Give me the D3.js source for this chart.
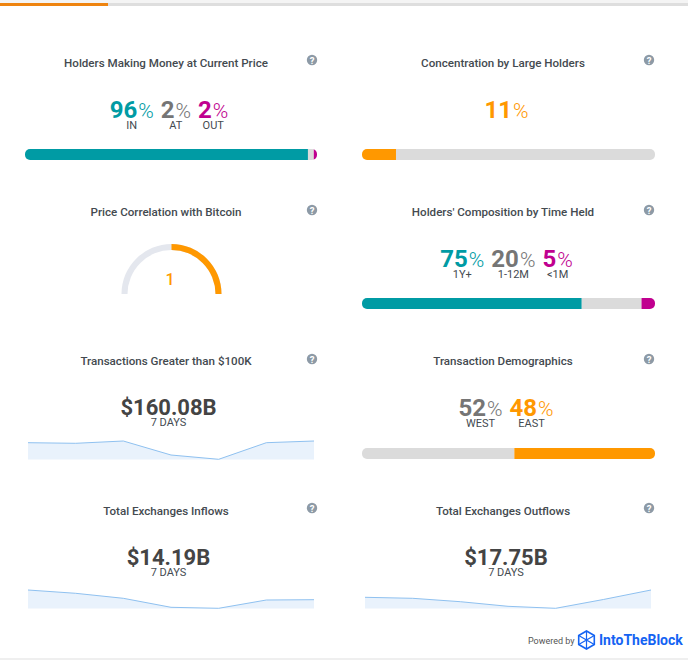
<!DOCTYPE html>
<html><head><meta charset="utf-8">
<script src="https://cdn.jsdelivr.net/npm/d3@7"></script>
<style>html,body{margin:0;padding:0;background:#fff;overflow:hidden}svg{display:block}text{font-family:Roboto,sans-serif}</style>
</head><body><svg id="c" width="688" height="660"></svg>
<script>
const titles=["Holders Making Money at Current Price","Concentration by Large Holders","Price Correlation with Bitcoin","Holders' Composition by Time Held","Transactions Greater than $100K","Transaction Demographics","Total Exchanges Inflows","Total Exchanges Outflows"];
const holdersLabels=["IN","AT","OUT"], holdersPct=[96,2,2], holdersBar=[96.9,2,1.1];
const concentrationPct=[11], concentrationBar=[11.6,88.4];
const correlationValue=1, correlationDomain=[-1,1];
const timeLabels=["1Y+","1-12M","<1M"], timePct=[75,20,5], timeBar=[75,20.4,4.6];
const demoLabels=["WEST","EAST"], demoPct=[52,48], demoBar=[52,48];
const days=[1,2,3,4,5,6,7];
const txValues=[16.8,16.2,18.5,4.5,0.2,16.8,18.5];
const inflowValues=[18.5,15.2,10.2,1.2,0.2,8.5,8.8];
const outflowValues=[11.2,10.2,6.8,2.2,0.2,9,18.5];
const bigLabels=["$160.08B","$14.19B","$17.75B"], periodLabel="7 DAYS";

const TEAL="#009ba4",GREY="#dbdbdb",MAG="#c0008f",ORANGE="#ff9800",DARK="#444a50",NUMGREY="#757575";
const svg=d3.select("#c");
svg.append("rect").attr("width",688).attr("height",3).attr("fill","#f4f4f4");
svg.append("rect").attr("y",3).attr("width",688).attr("height",3).attr("fill","#dedede");
svg.append("rect").attr("y",3).attr("width",108).attr("height",3).attr("fill","#ee8410");
svg.append("rect").attr("y",658).attr("width",688).attr("height",2).attr("fill","#efefef");

const titleCx=[166,503], iconCx=[312,649], rowTitle=[67,216,365,515], rowIcon=[60,210,359,508];
titles.forEach((t,i)=>{
  const col=i%2,row=Math.floor(i/2);
  svg.append("text").attr("x",titleCx[col]).attr("y",rowTitle[row]).attr("text-anchor","middle")
    .attr("font-size",11.6).attr("font-weight",500).attr("fill",DARK).text(t);
  const g=svg.append("g").attr("transform",`translate(${iconCx[col]},${rowIcon[row]})`);
  g.append("circle").attr("r",5.2).attr("fill","#8d9aa6");
  g.append("text").attr("y",3.5).attr("text-anchor","middle").attr("font-size",9.5).attr("font-weight",700).attr("fill","#fff").text("?");
});

function stats(cx,base,items){
  const g=svg.append("g");
  const parts=items.map(d=>{
    const n=g.append("text").attr("y",base).attr("font-size",24).attr("font-weight",700).attr("fill",d.color).text(d.pct);
    const p=g.append("text").attr("y",base).attr("font-size",21).attr("font-weight",300).attr("fill",d.color).text("%");
    const nw=n.node().getComputedTextLength(),pw=p.node().getComputedTextLength();
    return {n,p,nw,pw,d};
  });
  const gap=7,numGap=1;
  const total=d3.sum(parts,d=>d.nw+numGap+d.pw)+gap*(parts.length-1);
  let x=cx-total/2;
  parts.forEach(q=>{
    q.n.attr("x",x);q.p.attr("x",x+q.nw+numGap);
    if(q.d.label) g.append("text").attr("x",x+(q.nw+numGap+q.pw)/2).attr("y",base+11).attr("text-anchor","middle")
      .attr("font-size",11).attr("fill",DARK).text(q.d.label);
    x+=q.nw+numGap+q.pw+gap;
  });
}
function bar(x0,x1,y,vals,colors,id){
  const x=d3.scaleLinear().domain([0,d3.sum(vals)]).range([x0,x1]);
  const h=11;
  svg.append("clipPath").attr("id",id).append("rect").attr("x",x0).attr("y",y).attr("width",x1-x0).attr("height",h).attr("rx",5);
  const st=d3.cumsum(vals);
  svg.append("g").attr("clip-path",`url(#${id})`).selectAll("rect").data(vals).join("rect")
    .attr("x",(d,i)=>x(i?st[i-1]:0)).attr("y",y).attr("width",d=>x(d)-x(0)).attr("height",h).attr("fill",(d,i)=>colors[i]);
}
const c3=[TEAL,NUMGREY,MAG];
stats(169,118,holdersPct.map((p,i)=>({pct:p,label:holdersLabels[i],color:c3[i]})));
bar(25,317,149,holdersBar,[TEAL,GREY,MAG],"b1");
stats(506.5,118,concentrationPct.map(p=>({pct:p,color:ORANGE})));
bar(362,655,149,concentrationBar,[ORANGE,GREY],"b2");
stats(506.5,267,timePct.map((p,i)=>({pct:p,label:timeLabels[i],color:c3[i]})));
bar(362,655,298,timeBar,[TEAL,GREY,MAG],"b3");
const c2=[NUMGREY,ORANGE];
stats(506,416,demoPct.map((p,i)=>({pct:p,label:demoLabels[i],color:c2[i]})));
bar(362,655,448,demoBar,[GREY,ORANGE],"b4");

// gauge: scale spans -1..1 across the half circle, fill starts at zero
const ang=d3.scaleLinear().domain(correlationDomain).range([-Math.PI/2,Math.PI/2]);
const arc=d3.arc().innerRadius(44).outerRadius(50);
const gg=svg.append("g").attr("transform","translate(171.5,294)");
gg.append("path").attr("d",arc({startAngle:ang(correlationDomain[0]),endAngle:ang(correlationDomain[1])})).attr("fill","#e4e7ee");
gg.append("path").attr("d",arc({startAngle:ang(0),endAngle:ang(correlationValue)})).attr("fill",ORANGE);
svg.append("text").attr("x",170).attr("y",285).attr("text-anchor","middle").attr("font-size",16).attr("font-weight",500).attr("fill",ORANGE).text(correlationValue);

function spark(x0,x1,yb,vals,label,cx,base){
  const x=d3.scaleLinear().domain(d3.extent(days)).range([x0,x1]);
  const y=d3.scaleLinear().domain([0,18.5]).range([yb,yb-18.5]);
  svg.append("path").attr("d",d3.area().x((d,i)=>x(days[i])).y0(yb).y1(d=>y(d))(vals)).attr("fill","#e9f2fc");
  svg.append("path").attr("d",d3.line().x((d,i)=>x(days[i])).y(d=>y(d))(vals)).attr("fill","none").attr("stroke","#8fc1f0").attr("stroke-width",1);
  svg.append("text").attr("x",cx).attr("y",base).attr("text-anchor","middle").attr("font-size",22).attr("font-weight",700).attr("fill","#444").text(label);
  svg.append("text").attr("x",cx).attr("y",base+11).attr("text-anchor","middle").attr("font-size",11).attr("fill",DARK).text(periodLabel);
}
spark(28,314,459.5,txValues,bigLabels[0],168.5,415);
spark(28,314,608.5,inflowValues,bigLabels[1],168.5,565);
spark(365,651,608.5,outflowValues,bigLabels[2],506,565);

// footer
svg.append("text").attr("x",528).attr("y",644).attr("font-size",9).attr("fill","#555").text("Powered by");
const lg=svg.append("g").attr("transform","translate(586.5,640)").attr("fill","none").attr("stroke","#1463f3").attr("stroke-width",1.6);
const hex=d3.range(6).map(i=>[9*Math.sin(i*Math.PI/3),9*Math.cos(i*Math.PI/3)]);
lg.append("path").attr("d",d3.line()(hex)+"Z");
lg.append("path").attr("d",`M${hex[1]}L${hex[4]}M${hex[2]}L${hex[5]}M${hex[0]}L${hex[3]}`).attr("stroke-width",1.2);
svg.append("text").attr("x",599).attr("y",645).attr("font-size",14).attr("font-weight",700).attr("fill","#1463f3").text("IntoTheBlock");
</script></body></html>
